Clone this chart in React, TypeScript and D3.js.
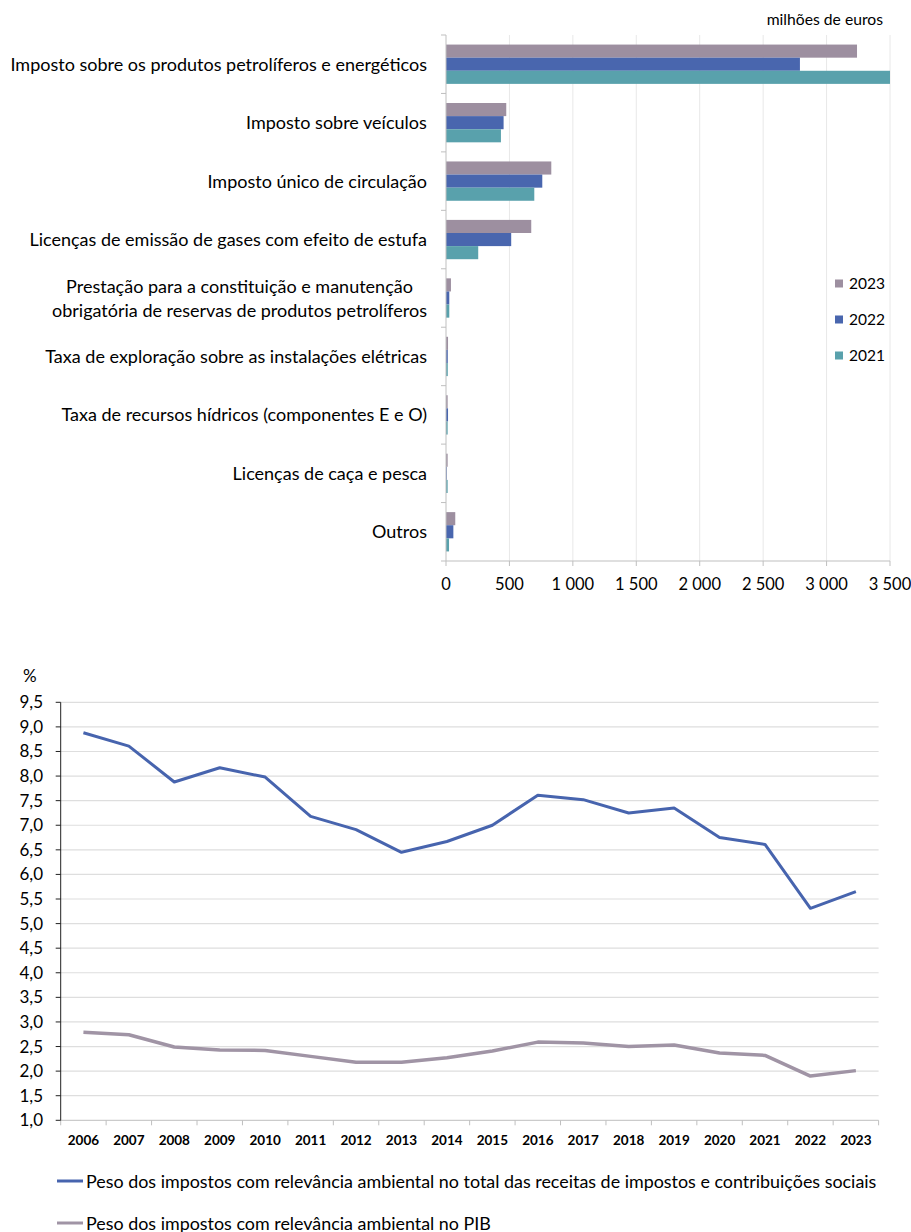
import React from "react";
import * as d3 from "d3";

// Receitas de impostos com relevância ambiental, por imposto (milhões de euros)
const categories = [
  ["Imposto sobre os produtos petrolíferos e energéticos"],
  ["Imposto sobre veículos"],
  ["Imposto único de circulação"],
  ["Licenças de emissão de gases com efeito de estufa"],
  ["Prestação para a constituição e manutenção", "obrigatória de reservas de produtos petrolíferos"],
  ["Taxa de exploração sobre as instalações elétricas"],
  ["Taxa de recursos hídricos (componentes E e O)"],
  ["Licenças de caça e pesca"],
  ["Outros"],
];
const seriesYears = ["2023", "2022", "2021"];
const values2023 = [3240, 475, 830, 672, 39, 16, 13, 13, 73];
const values2022 = [2790, 454, 759, 514, 26, 14, 16, 6, 58];
const values2021 = [3500, 433, 696, 254, 26, 14, 13, 13, 24];
const barTicks = [0, 500, 1000, 1500, 2000, 2500, 3000, 3500];

// Peso dos impostos com relevância ambiental (%)
const years = [
  "2006", "2007", "2008", "2009", "2010", "2011", "2012", "2013", "2014",
  "2015", "2016", "2017", "2018", "2019", "2020", "2021", "2022", "2023",
];
const shareOfTaxes = [
  8.88, 8.61, 7.88, 8.17, 7.98, 7.18, 6.91, 6.45, 6.67,
  7.0, 7.61, 7.52, 7.25, 7.35, 6.75, 6.61, 5.31, 5.65,
];
const shareOfGdp = [
  2.79, 2.74, 2.49, 2.43, 2.42, 2.3, 2.18, 2.18, 2.27,
  2.41, 2.59, 2.57, 2.5, 2.53, 2.37, 2.32, 1.9, 2.01,
];
const lineTicks = [1, 1.5, 2, 2.5, 3, 3.5, 4, 4.5, 5, 5.5, 6, 6.5, 7, 7.5, 8, 8.5, 9, 9.5];
const lineLabels = [
  "Peso dos impostos com relevância ambiental no total das receitas de impostos e contribuições sociais",
  "Peso dos impostos com relevância ambiental no PIB",
];

const FONT = "Lato, 'Open Sans', sans-serif";
const barColors: Record<string, string> = { "2023": "#9d8fa0", "2022": "#4966ae", "2021": "#59a1ac" };
const lineColors = ["#4764ae", "#a094a5"];

const pt = d3.formatLocale({ decimal: ",", thousands: "\u2009", grouping: [3], currency: ["", " €"] });
const fmtThousands = (v: number) => pt.format(",")(v).replace("\u2009", " ");
const fmtOne = pt.format(".1f");

let measureCtx: CanvasRenderingContext2D | null = null;
function textWidth(s: string, size: number) {
  if (!measureCtx) measureCtx = document.createElement("canvas").getContext("2d");
  if (!measureCtx) return s.length * size * 0.5;
  measureCtx.font = `${size}px Lato`;
  return measureCtx.measureText(s).width;
}

function BarChart() {
  const x = d3.scaleLinear().domain([0, 3500]).range([446, 890]);
  const y = d3.scaleBand<number>().domain(d3.range(categories.length)).range([35, 561]);
  const sub = d3.scaleBand<string>().domain(seriesYears).range([0, y.bandwidth()]).paddingOuter(0.73);
  const data: Record<string, number[]> = { "2023": values2023, "2022": values2022, "2021": values2021 };
  const labelSize = 18;
  const labelRight = 427;
  const [x0, x1] = x.range();
  const [yTop, yBottom] = y.range();

  return (
    <g>
      <text x={883} y={25} fontSize={15.7} textAnchor="end" fontFamily={FONT} fill="#000">
        milhões de euros
      </text>
      {barTicks.slice(1).map((t) => (
        <line key={t} x1={x(t)} x2={x(t)} y1={yTop} y2={yBottom} stroke="#e8e8e8" strokeWidth={1} />
      ))}
      {categories.map((_, i) =>
        seriesYears.map((s) => (
          <rect
            key={`${i}-${s}`}
            x={x(0)}
            y={(y(i) as number) + (sub(s) as number)}
            width={x(data[s][i]) - x(0)}
            height={sub.bandwidth()}
            fill={barColors[s]}
          />
        ))
      )}
      {/* category axis */}
      <line x1={x0} x2={x0} y1={yTop} y2={yBottom} stroke="#bfbfbf" />
      {d3.range(categories.length + 1).map((i) => {
        const yy = yTop + i * y.step();
        return <line key={i} x1={x0 - 5} x2={x0} y1={yy} y2={yy} stroke="#bfbfbf" />;
      })}
      {/* value axis */}
      <line x1={x0} x2={x1} y1={yBottom} y2={yBottom} stroke="#bfbfbf" />
      {barTicks.map((t) => (
        <g key={t}>
          <line x1={x(t)} x2={x(t)} y1={yBottom} y2={yBottom + 5} stroke="#bfbfbf" />
          <text x={x(t)} y={590} fontSize={16.5} textAnchor="middle" fontFamily={FONT} fill="#000">
            {fmtThousands(t)}
          </text>
        </g>
      ))}
      {categories.map((lines, i) => {
        const cy = (y(i) as number) + y.bandwidth() / 2;
        const maxW = Math.max(...lines.map((l) => textWidth(l, labelSize)));
        const cx = labelRight - maxW / 2;
        const lh = 24;
        return (
          <text key={i} fontSize={labelSize} fontFamily={FONT} fill="#000" textAnchor="middle">
            {lines.map((l, j) => (
              <tspan key={j} x={cx} y={cy + 6.5 + (j - (lines.length - 1) / 2) * lh}>
                {l}
              </tspan>
            ))}
          </text>
        );
      })}
      {seriesYears.map((s, k) => {
        const ly = 283.5 + k * 36;
        return (
          <g key={s}>
            <rect x={835} y={ly - 4} width={8} height={8} fill={barColors[s]} />
            <text x={849} y={ly + 5.5} fontSize={15.5} fontFamily={FONT} fill="#000">
              {s}
            </text>
          </g>
        );
      })}
    </g>
  );
}

function LineChart() {
  const x = d3.scaleBand<string>().domain(years).range([60.7, 878.6]);
  const y = d3.scaleLinear().domain([1, 9.5]).range([1120.3, 702.3]);
  const cx = (yr: string) => (x(yr) as number) + x.bandwidth() / 2;
  const line = d3
    .line<number>()
    .x((_, i) => cx(years[i]))
    .y((v) => y(v));
  const [x0, x1] = x.range();

  return (
    <g>
      <text x={23} y={682} fontSize={17} fontFamily={FONT} fill="#000">%</text>
      {lineTicks.slice(1).map((t) => (
        <line key={t} x1={x0} x2={x1} y1={y(t)} y2={y(t)} stroke="#dedede" strokeWidth={1.2} />
      ))}
      <line x1={x0} x2={x1} y1={y(1)} y2={y(1)} stroke="#bfbfbf" />
      {d3.range(years.length + 1).map((i) => {
        const xx = x0 + i * x.step();
        return <line key={i} x1={xx} x2={xx} y1={y(1)} y2={y(1) + 5} stroke="#bfbfbf" />;
      })}
      <line x1={x0} x2={x0} y1={y(9.5)} y2={y(1)} stroke="#222" strokeWidth={1} />
      {lineTicks.map((t) => (
        <g key={t}>
          <line x1={x0 - 5} x2={x0} y1={y(t)} y2={y(t)} stroke="#222" />
          <text x={43} y={y(t) + 6} fontSize={17} textAnchor="end" fontFamily={FONT} fill="#000">
            {fmtOne(t)}
          </text>
        </g>
      ))}
      {years.map((yr) => (
        <text
          key={yr}
          x={cx(yr)}
          y={1145}
          fontSize={13.5}
          fontWeight="bold"
          textAnchor="middle"
          fontFamily={FONT}
          fill="#000"
        >
          {yr}
        </text>
      ))}
      <path d={line(shareOfTaxes) || ""} fill="none" stroke={lineColors[0]} strokeWidth={3} strokeLinejoin="round" />
      <path d={line(shareOfGdp) || ""} fill="none" stroke={lineColors[1]} strokeWidth={3.5} strokeLinejoin="round" />
      {lineLabels.map((lab, k) => {
        const ly = 1181 + k * 42;
        return (
          <g key={k}>
            <line x1={57} x2={83} y1={ly} y2={ly} stroke={lineColors[k]} strokeWidth={3} />
            <text x={86} y={ly + 6.5} fontSize={17.9} fontFamily={FONT} fill="#000">
              {lab}
            </text>
          </g>
        );
      })}
    </g>
  );
}

export default function App() {
  return (
    <svg
      width={911}
      height={1232}
      viewBox="0 0 911 1232"
      style={{ position: "absolute", left: 0, top: 0, background: "#fff" }}
    >
      <rect width={911} height={1232} fill="#fff" />
      <BarChart />
      <LineChart />
    </svg>
  );
}
